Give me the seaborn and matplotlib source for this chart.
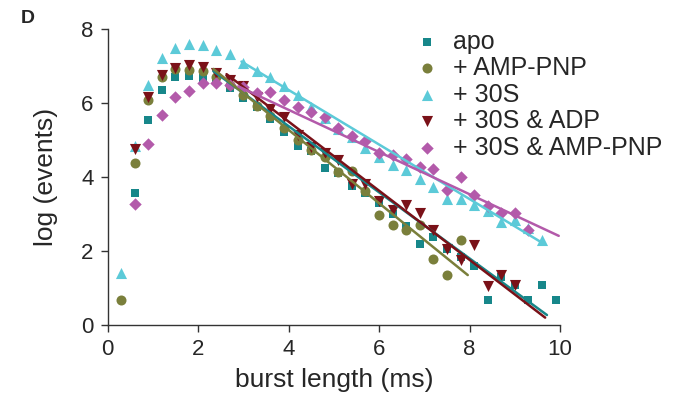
import numpy as np
import pandas as pd
import matplotlib
matplotlib.use("Agg")
import matplotlib.pyplot as plt
import seaborn as sns

# burst length bins are 0.3 ms wide; each series starts at a given bin index
bin_width = 0.3

apo_start = 2
apo = [3.56, 5.54, 6.35, 6.71, 6.73, 6.67, 6.60, 6.40, 6.13, 5.88, 5.56, 5.23,
       4.84, 4.69, 4.24, 4.10, 3.76, 3.56, 3.30, 3.00, 2.68, 2.19, 2.38, 2.06,
       1.85, 1.59, 0.68, 1.30, 1.08, 0.68, 1.08, 0.68]

amppnp_start = 1
amppnp = [0.68, 4.39, 6.08, 6.69, 6.91, 6.89, 6.87, 6.69, 6.50, 6.22, 5.93, 5.65,
          5.33, 5.00, 4.73, 4.53, 4.13, 4.17, 3.62, 2.98, 2.70, 2.57, 2.69, 1.78,
          1.36, 2.30]

s30_start = 1
s30 = [1.40, 4.84, 6.49, 7.21, 7.50, 7.60, 7.57, 7.43, 7.32, 7.08, 6.86, 6.69,
       6.45, 6.22, 5.90, 5.60, 5.30, 5.08, 4.78, 4.55, 4.32, 4.18, 3.95, 3.73,
       3.40, 3.40, 3.25, 3.08, 2.78, 2.83, 2.62, 2.30]

s30_adp_start = 2
s30_adp = [4.77, 6.17, 6.76, 6.95, 7.04, 6.98, 6.82, 6.62, 6.45, 6.15, 5.85, 5.63,
           5.14, 4.82, 4.64, 4.46, 3.80, 3.80, 3.35, 3.12, 3.24, 3.03, 2.56, 2.05,
           1.77, 2.16, 1.05, 1.35, 1.08]

s30_amppnp_start = 2
s30_amppnp = [3.26, 4.88, 5.68, 6.17, 6.32, 6.53, 6.55, 6.50, 6.44, 6.26, 6.31,
              6.08, 5.90, 5.77, 5.61, 5.32, 5.11, 4.98, 4.66, 4.59, 4.48, 4.28,
              4.21, 3.64, 4.00, 3.52, 3.21, 3.04, 3.04, 2.58]

# exponential fits (straight lines in log space): start/end in data units
fit_x = {"apo": [2.34, 9.71], "+ AMP-PNP": [2.34, 7.96], "+ 30S": [2.96, 9.62],
         "+ 30S & ADP": [2.63, 9.67], "+ 30S & AMP-PNP": [2.89, 9.97]}
fit_y = {"apo": [6.86, 0.27], "+ AMP-PNP": [6.92, 1.35], "+ 30S": [7.12, 2.21],
         "+ 30S & ADP": [6.78, 0.20], "+ 30S & AMP-PNP": [6.45, 2.41]}

labels = ["apo", "+ AMP-PNP", "+ 30S", "+ 30S & ADP", "+ 30S & AMP-PNP"]
colors = ["#17878a", "#7a7f3b", "#5ccad8", "#7a1118", "#b35aaa"]
markers = ["s", "o", "^", "v", "D"]
sizes = [38, 52, 64, 64, 40]

series = [(apo_start, apo), (amppnp_start, amppnp), (s30_start, s30),
          (s30_adp_start, s30_adp), (s30_amppnp_start, s30_amppnp)]

rows = []
for lab, (start, vals) in zip(labels, series):
    for i, v in enumerate(vals):
        rows.append({"condition": lab, "burst": (start + i) * bin_width, "log_events": v})
df = pd.DataFrame(rows)

fit_rows = []
for lab in labels:
    for x, y in zip(fit_x[lab], fit_y[lab]):
        fit_rows.append({"condition": lab, "burst": x, "log_events": y})
fit_df = pd.DataFrame(fit_rows)

sns.set_style("ticks")
plt.rcParams["font.family"] = ["Liberation Sans", "DejaVu Sans"]

fig = plt.figure(figsize=(6.74, 4.03), dpi=100)
ax = fig.add_axes([0.1595, 0.1935, 0.6715, 0.7345])

palette = dict(zip(labels, colors))
for lab, m, s in zip(labels, markers, sizes):
    sub = df[df["condition"] == lab]
    sns.scatterplot(data=sub, x="burst", y="log_events", color=palette[lab],
                    marker=m, s=s, linewidth=0, ax=ax, label=lab, zorder=2)

sns.lineplot(data=fit_df, x="burst", y="log_events", hue="condition",
             palette=palette, hue_order=labels, linewidth=1.8, legend=False,
             ax=ax, zorder=3)

ax.set_xlim(0, 10)
ax.set_ylim(0, 8)
ax.set_xticks([0, 2, 4, 6, 8, 10])
ax.set_yticks([0, 2, 4, 6, 8])
ax.tick_params(labelsize=16, length=5, width=1, color="#333333", pad=5)
for sp in ["left", "bottom"]:
    ax.spines[sp].set_linewidth(1)
    ax.spines[sp].set_color("#333333")
sns.despine(ax=ax)
ax.set_xlabel("burst length (ms)", fontsize=19, labelpad=6)
ax.set_ylabel("log (events)", fontsize=19, labelpad=17)

ax.legend(loc="upper left", bbox_to_anchor=(0.656, 1.032), frameon=False,
          fontsize=18, handletextpad=0.54, labelspacing=0.1, borderaxespad=0,
          handlelength=1.0, borderpad=0.4)

fig.text(0.031, 0.953, "D", fontsize=14, fontweight="bold", va="center")

fig.savefig("out.png", dpi=100)
